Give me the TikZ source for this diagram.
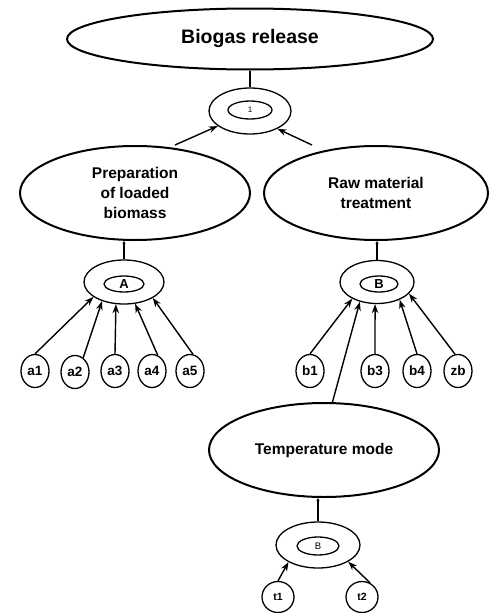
\documentclass[tikz,border=0pt]{standalone}
\usepackage{fontspec}
\setmainfont{Liberation Sans}
\usetikzlibrary{shapes.geometric,arrows.meta}

\begin{document}
\begin{tikzpicture}[x=1pt,y=-1pt,
        goal/.style={ellipse,draw,line width=2pt,inner sep=0pt,align=center,
            minimum width=230pt,minimum height=94pt,font=\fontsize{15.5}{20}\selectfont\bfseries},
        ring/.style={ellipse,draw,line width=1.3pt,minimum width=80pt,minimum height=44pt},
        core/.style={ellipse,draw,line width=1.3pt,inner sep=0pt,minimum width=40pt,minimum height=16pt,
            font=\fontsize{13}{13}\selectfont\bfseries},
        leaf/.style={ellipse,draw,line width=1.3pt,inner sep=0pt,minimum width=28pt,minimum height=33pt,
            font=\fontsize{13.5}{13.5}\selectfont\bfseries},
        arr/.style={-{Stealth[length=9pt,width=6.5pt]},line width=1.4pt},
        tick/.style={-{Stealth[length=3pt,width=3pt]},line width=1.3pt}]

        \useasboundingbox (0,0) rectangle (492,613);

        % top level
        \node (biogas) [goal,minimum width=366pt,minimum height=61pt,font=\fontsize{19.5}{20}\selectfont\bfseries] at (250,39) {Biogas release};
        \node (ring1) [ring,minimum width=82pt,minimum height=46pt] at (250,111) {};
        \node (core1) [core,minimum width=44pt,minimum height=18pt,font=\fontsize{8}{8}\selectfont] at (250,110) {1};
        \draw[line width=1.3pt] (biogas.south) -- (ring1.north);

        \node (prep) [goal] at (135,193) {Preparation\\of loaded\\biomass};
        \node (raw) [goal,minimum width=224pt] at (376,193) {Raw material\\treatment};
        \coordinate (fromprep) at (175,145);
        \coordinate (fromraw) at (312,145);
        \draw[arr] (fromprep) -- (ring1.205);
        \draw[arr] (fromraw) -- (ring1.327);

        % left branch
        \node (ringA) [ring] at (124,282) {};
        \node (coreA) [core] at (124,284) {A};
        \draw[tick] (ringA.north) -- (ringA.north |- prep.south);

        \node (a1) [leaf] at (35,371) {a1};
        \node (a2) [leaf] at (75,372) {a2};
        \node (a3) [leaf] at (115,371) {a3};
        \node (a4) [leaf] at (152,371) {a4};
        \node (a5) [leaf] at (190,371) {a5};
        \draw[arr] (a1.north) -- (ringA.206);
        \draw[arr] (a2.60) -- (ringA.221);
        \draw[arr] (a3.north) -- (ringA.250);
        \draw[arr] (a4.70) -- (ringA.297);
        \draw[arr] (a5.80) -- (ringA.331);

        % right branch
        \node (ringB) [ring,minimum width=74pt,minimum height=43pt] at (377,282) {};
        \node (coreB) [core,minimum width=38pt] at (379,284) {B};
        \draw[tick] (ringB.north) -- (ringB.north |- raw.south);

        \node (b1) [leaf] at (310,371) {b1};
        \node (b3) [leaf] at (375,371) {b3};
        \node (b4) [leaf] at (417,371) {b4};
        \node (zb) [leaf] at (458,371) {zb};
        \node (temp) [goal] at (324,450) {Temperature mode};
        \draw[arr] (b1.north) -- (ringB.214);
        \draw[arr] (temp.80) -- (ringB.229);
        \draw[arr] (b3.north) -- (ringB.265);
        \draw[arr] (b4.north) -- (ringB.322);
        \draw[arr] (zb.100) -- (ringB.340);

        % temperature
        \node (ringT) [ring,minimum width=84pt,minimum height=46pt] at (318,545) {};
        \node (coreT) [core,minimum width=42pt,minimum height=18pt,font=\fontsize{9.5}{9.5}\selectfont] at (318,546) {B};
        \draw[tick] (ringT.north) -- (ringT.north |- temp.south);

        \node (t1) [leaf,minimum width=32pt,minimum height=31pt,font=\fontsize{10.5}{10.5}\selectfont\bfseries] at (278,597) {t1};
        \node (t2) [leaf,minimum width=32pt,minimum height=31pt,font=\fontsize{10.5}{10.5}\selectfont\bfseries] at (362,597) {t2};
        \draw[arr] (t1.north) -- (ringT.210);
        \draw[arr] (t2.60) -- (ringT.331);

    \end{tikzpicture}
\end{document}
